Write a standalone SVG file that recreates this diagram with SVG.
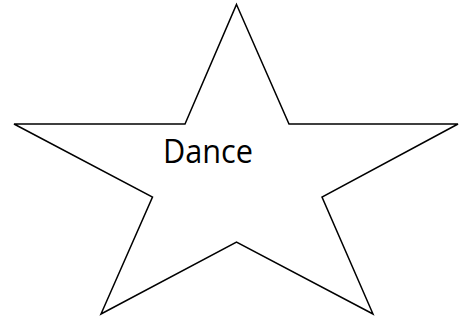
<svg xmlns="http://www.w3.org/2000/svg" width="469" height="320" viewBox="0 0 469 320">
<style>
.shape{fill:#ffffff;stroke:#000000;stroke-width:1.5;stroke-linejoin:miter}
.label{font-family:"Open Sans","Liberation Sans",sans-serif;font-size:32px;fill:#000000}
</style>
<rect width="469" height="320" fill="#ffffff"/>
<g id="star">
<polygon class="shape" points="236.5,4.5 289,124 458,124 322,197 373,314 236.5,242 101,314 152.5,197 14,124 185,124"/>
<text class="label" x="208" y="162.5" text-anchor="middle" textLength="90" lengthAdjust="spacingAndGlyphs">Dance</text>
</g>
<g id="connectors"/>
</svg>
